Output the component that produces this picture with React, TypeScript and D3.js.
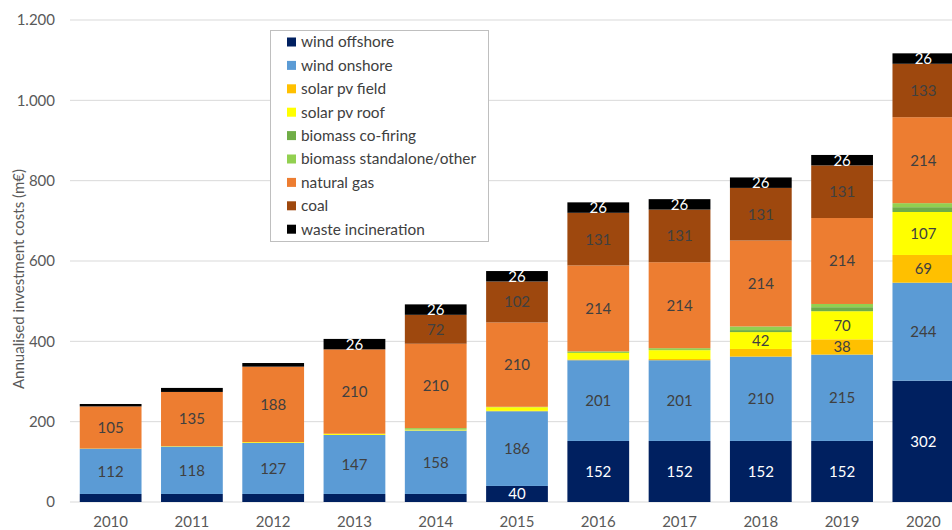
import React from "react";
import * as d3 from "d3";

const years = ["2010", "2011", "2012", "2013", "2014", "2015", "2016", "2017", "2018", "2019", "2020"];

const seriesNames = [
  "wind offshore",
  "wind onshore",
  "solar pv field",
  "solar pv roof",
  "biomass co-firing",
  "biomass standalone/other",
  "natural gas",
  "coal",
  "waste incineration",
];

const seriesColors = ["#002060", "#5B9BD5", "#FFC000", "#FFFF00", "#70AD47", "#92D050", "#ED7D31", "#9E480E", "#000000"];
const labelColors = ["#ffffff", "#404040", "#404040", "#404040", "#404040", "#404040", "#404040", "#404040", "#ffffff"];

const windOffshore = [20, 20, 20, 20, 20, 40, 152, 152, 152, 152, 302];
const windOnshore = [112, 118, 127, 147, 158, 186, 201, 201, 210, 215, 244];
const solarPvField = [0, 0, 0, 0, 0, 1, 2, 3, 19, 38, 69];
const solarPvRoof = [0, 1, 2, 3, 2, 9, 16, 22, 42, 70, 107];
const biomassCofiring = [0, 0, 0, 0, 0, 0, 0, 0, 5, 10, 12];
const biomassStandalone = [1, 0, 0, 0, 4, 1, 4, 5, 9, 8, 10];
const naturalGas = [105, 135, 188, 210, 210, 210, 214, 214, 214, 214, 214];
const coal = [0, 0, 0, 0, 72, 102, 131, 131, 131, 131, 133];
const wasteIncineration = [6, 10, 9, 26, 26, 26, 26, 26, 26, 26, 26];

const yTicks = [0, 200, 400, 600, 800, 1000, 1200];

const seriesValues = [
  windOffshore,
  windOnshore,
  solarPvField,
  solarPvRoof,
  biomassCofiring,
  biomassStandalone,
  naturalGas,
  coal,
  wasteIncineration,
];

const W = 952;
const H = 530;
const FONT = "Lato, 'Open Sans', 'Liberation Sans', sans-serif";

const locale = d3.formatLocale({ decimal: ",", thousands: ".", grouping: [3], currency: ["", "€"] });
const fmtTick = locale.format(",");

export default function App() {
  const x = d3.scaleBand<string>().domain(years).range([70, 964]).paddingInner(0.24).paddingOuter(0.12);
  const y = d3.scaleLinear().domain([0, 1200]).range([502, 20]);

  const rows = years.map((yr, i) => {
    const row: Record<string, number | string> = { year: yr };
    seriesNames.forEach((s, k) => (row[s] = seriesValues[k][i]));
    return row;
  });
  const stacked = d3.stack<Record<string, number | string>>().keys(seriesNames)(rows as any);

  const legendX = 270;
  const legendY = 30;
  const legendRow = 23.4;

  return (
    <div style={{ position: "absolute", left: 0, top: 0 }}>
      <svg width={W} height={H} style={{ display: "block", fontFamily: FONT }}>
        <rect width={W} height={H} fill="#fff" />
        {/* grid */}
        {yTicks.map((t) => (
          <g key={t}>
            <line x1={70} x2={W} y1={y(t)} y2={y(t)} stroke="#D9D9D9" strokeWidth={1} />
            <text x={55} y={y(t)} dy="0.35em" textAnchor="end" fontSize={15} fill="#595959">
              {fmtTick(t)}
            </text>
          </g>
        ))}
        {/* bars */}
        {stacked.map((layer, k) => (
          <g key={layer.key} fill={seriesColors[k]}>
            {layer.map((d, i) => {
              const h = y(d[0]) - y(d[1]);
              if (h <= 0) return null;
              return <rect key={i} x={x(years[i])} y={y(d[1])} width={x.bandwidth()} height={h} />;
            })}
          </g>
        ))}
        {/* value labels */}
        {stacked.map((layer, k) => (
          <g key={layer.key + "-lbl"}>
            {layer.map((d, i) => {
              const v = seriesValues[k][i];
              if (v < 25) return null;
              return (
                <text
                  key={i}
                  x={(x(years[i]) as number) + x.bandwidth() / 2}
                  y={(y(d[0]) + y(d[1])) / 2}
                  dy="0.36em"
                  textAnchor="middle"
                  fontSize={15}
                  fill={labelColors[k]}
                >
                  {v}
                </text>
              );
            })}
          </g>
        ))}
        {/* x labels */}
        {years.map((yr) => (
          <text
            key={yr}
            x={(x(yr) as number) + x.bandwidth() / 2}
            y={522}
            dy="0.35em"
            textAnchor="middle"
            fontSize={15}
            fill="#595959"
          >
            {yr}
          </text>
        ))}
        {/* y title */}
        <text
          transform={`translate(18.5,279) rotate(-90)`}
          textAnchor="middle"
          dy="0.35em"
          fontSize={15}
          fill="#595959"
        >
          Annualised investment costs (m€)
        </text>
        {/* legend */}
        <rect x={legendX + 0.5} y={legendY + 0.5} width={218} height={211} fill="#fff" stroke="#BFBFBF" />
        {seriesNames.map((s, k) => (
          <g key={s} transform={`translate(${legendX + 17},${legendY + 12 + k * legendRow})`}>
            <rect x={0} y={-4.5} width={9} height={9} fill={seriesColors[k]} />
            <text x={14} y={0} dy="0.35em" fontSize={15.4} fill="#404040">
              {s}
            </text>
          </g>
        ))}
      </svg>
    </div>
  );
}
